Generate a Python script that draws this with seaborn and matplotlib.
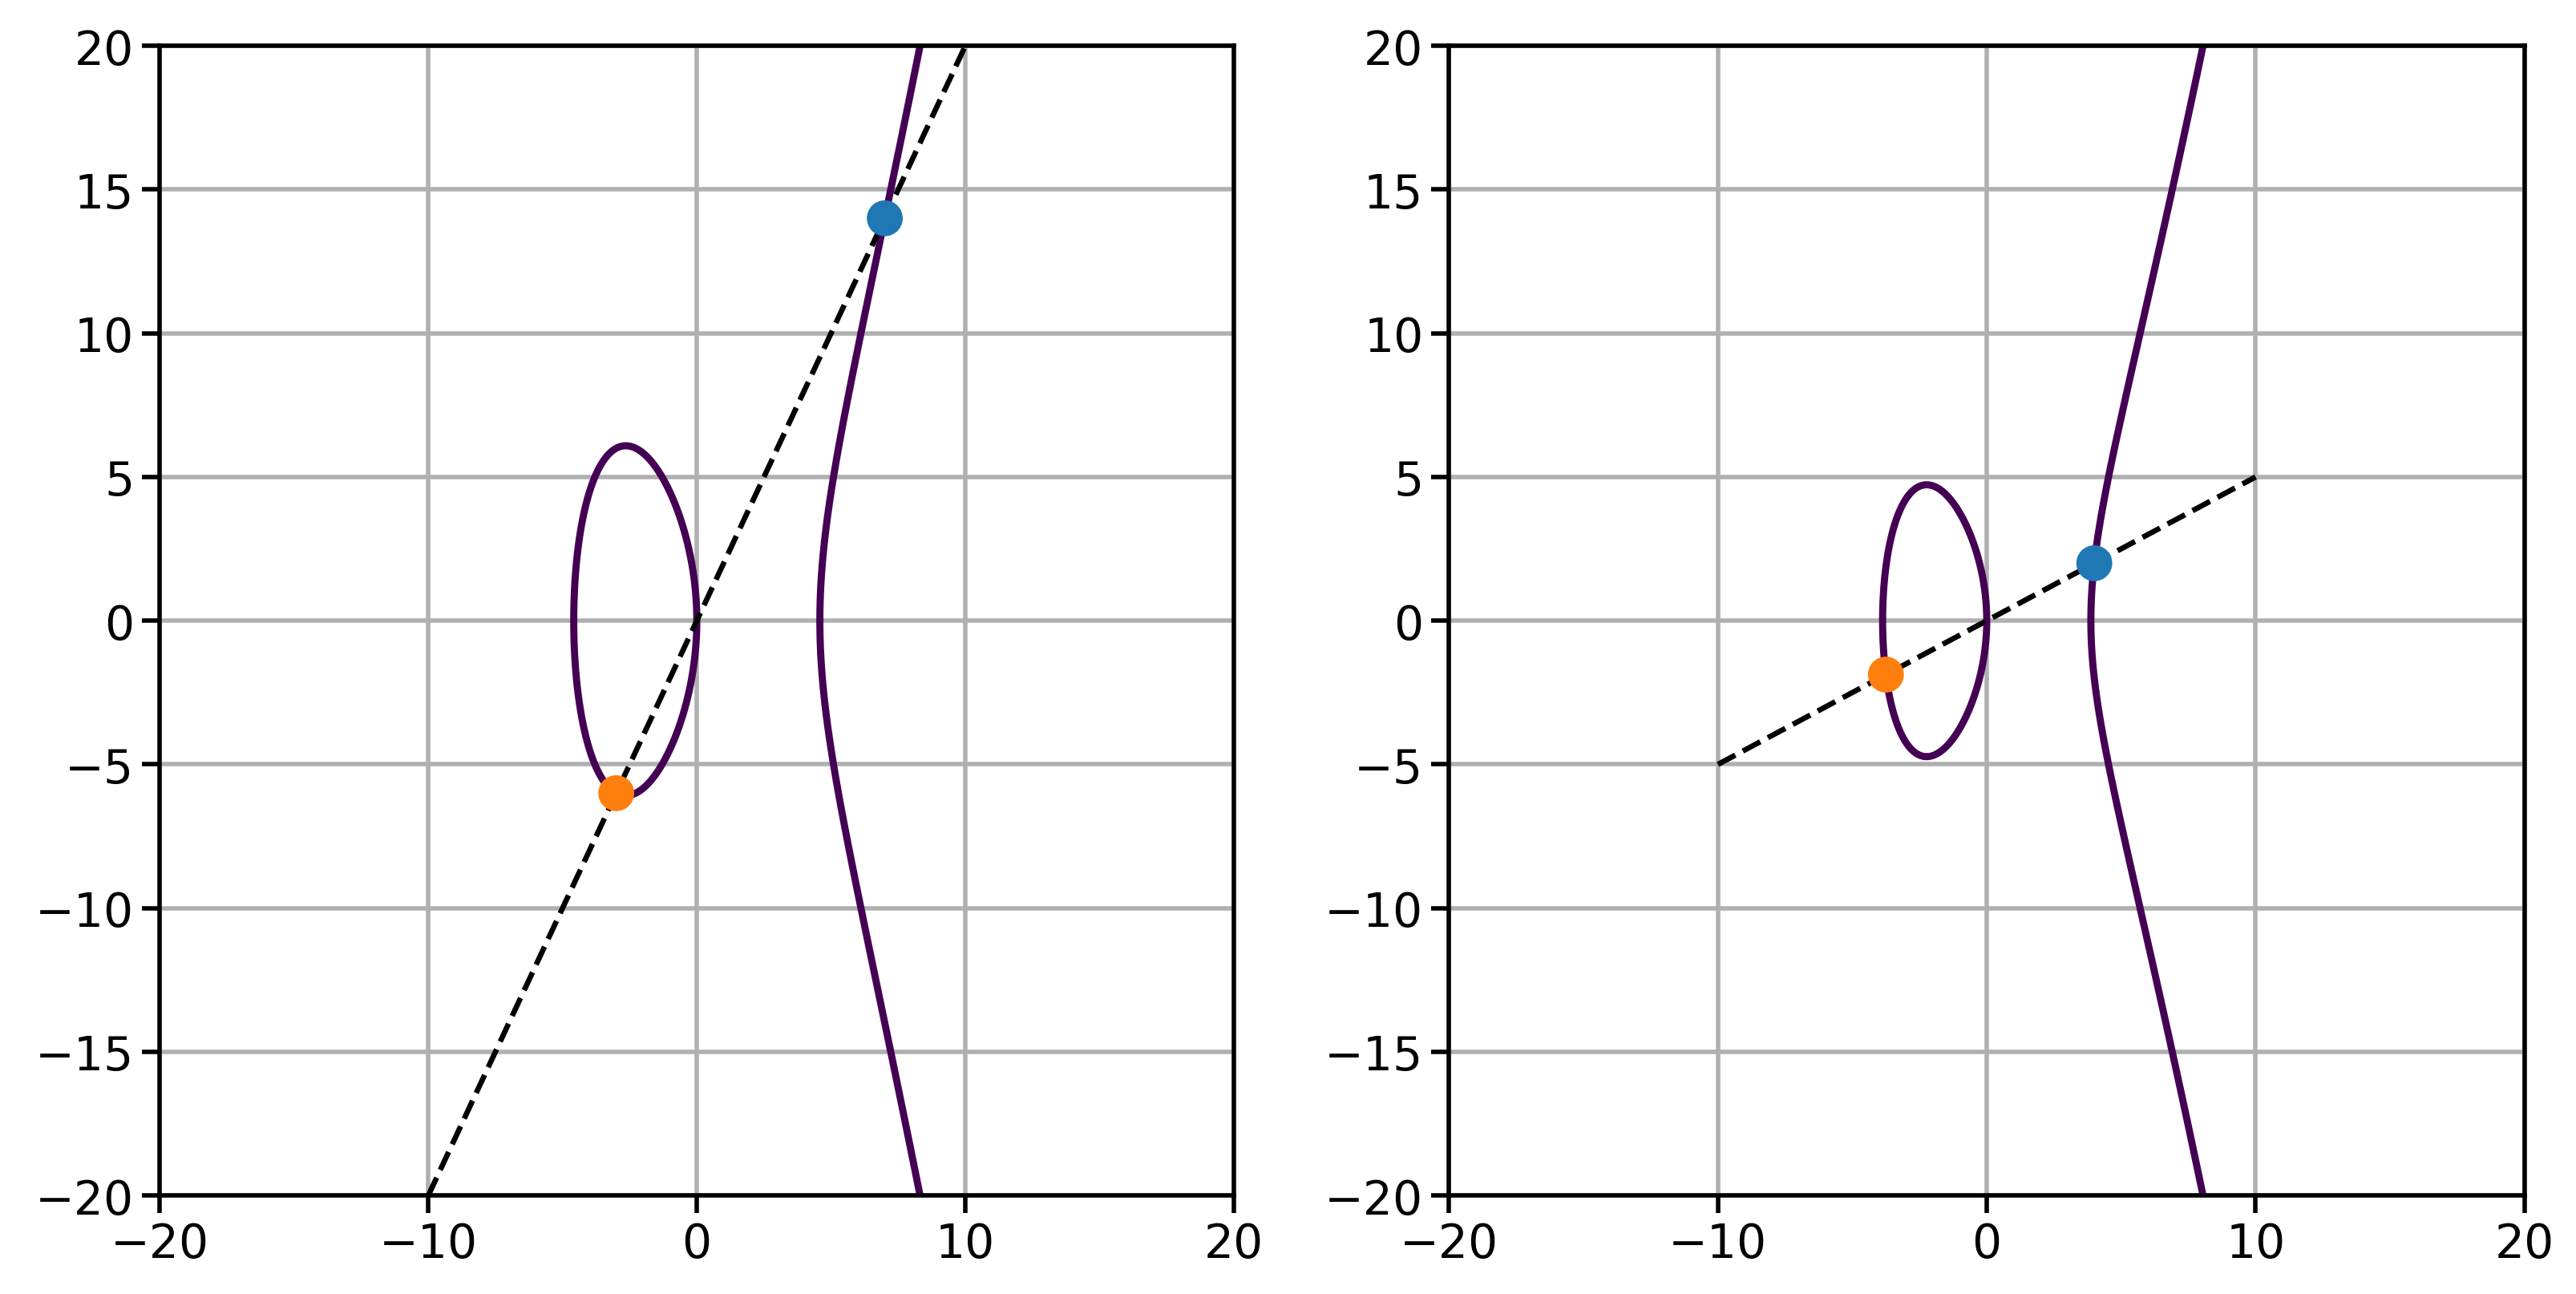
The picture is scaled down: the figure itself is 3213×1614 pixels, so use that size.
import numpy as np
import matplotlib
matplotlib.use("Agg")
import matplotlib.pyplot as plt
import seaborn as sns

# curves y^2 = x^3 + a x + b
curve_a = [-21, -15]
curve_b = [0, 0]
# points P (blue) and Q (orange)
p_pts = [(7, 14), (4, 2)]
q_pts = [(-3, -6), (-3.75, -1.875)]
# dashed line endpoints
line_x = [[-10, 10], [-10, 10]]
line_y = [[-20, 20], [-5, 5]]
ticks = [-20, -10, 0, 10, 20]
yticks = [-20, -15, -10, -5, 0, 5, 10, 15, 20]

sns.set_style("white")
plt.rcParams['font.family'] = ['DejaVu Sans']
fig = plt.figure(figsize=(16.065, 8.075), dpi=200)
axes = [fig.add_axes([0.062, 0.076, 0.417, 0.888]),
        fig.add_axes([0.5625, 0.076, 0.4175, 0.888])]
xs = np.linspace(-20, 20, 800)
X, Y = np.meshgrid(xs, xs)
for i, ax in enumerate(axes):
    Z = Y**2 - X**3 - curve_a[i] * X - curve_b[i]
    ax.contour(X, Y, Z, levels=[0], colors=['#440154'], linewidths=3.2)
    sns.lineplot(x=line_x[i], y=line_y[i], ax=ax, color='black', linestyle='--', linewidth=2.4)
    sns.scatterplot(x=[p_pts[i][0]], y=[p_pts[i][1]], ax=ax, color='#1f77b4', s=260, edgecolor='none', zorder=5)
    sns.scatterplot(x=[q_pts[i][0]], y=[q_pts[i][1]], ax=ax, color='#ff7f0e', s=260, edgecolor='none', zorder=5)
    ax.set_xlim(-20, 20); ax.set_ylim(-20, 20)
    ax.set_xticks(ticks); ax.set_yticks(yticks)
    ax.grid(True, color='#b0b0b0', linewidth=2)
    ax.set_axisbelow(True)
    for s in ax.spines.values():
        s.set_color('black'); s.set_linewidth(2)
    ax.tick_params(labelsize=21, labelcolor='black', colors='black', length=8, width=2, left=True, bottom=True)
fig.savefig("out.png", dpi=200)
